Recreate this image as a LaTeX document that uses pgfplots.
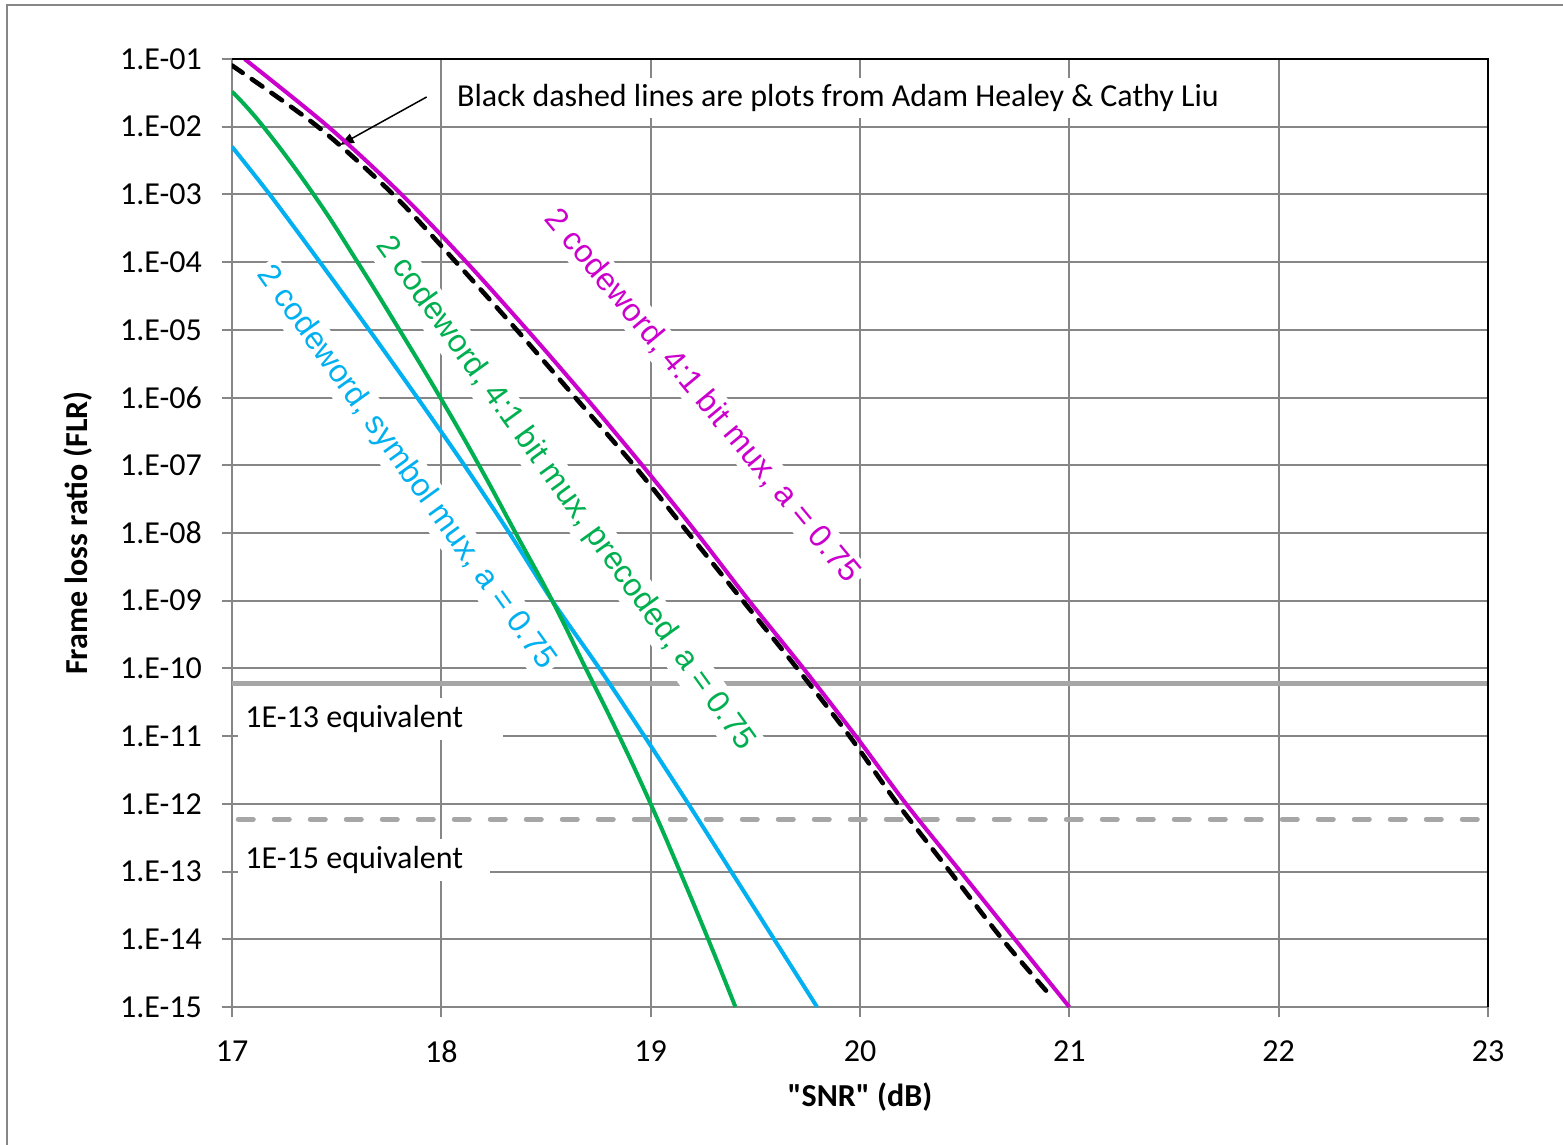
\documentclass[border=0pt]{standalone}
\usepackage{pgfplots}
\pgfplotsset{compat=1.18}
\usepackage{fontspec}
\setmainfont{Carlito}[Ligatures=TeXOff]
\newfontfamily\arialfont{Liberation Sans}
\usetikzlibrary{arrows.meta}
\definecolor{gridgray}{HTML}{868686}
\definecolor{refgray}{HTML}{A6A6A6}
\definecolor{cmag}{HTML}{CC00CC}
\definecolor{cgreen}{HTML}{00B050}
\definecolor{cblue}{HTML}{00B0F0}
\begin{document}
\begin{tikzpicture}[font=\fontsize{16}{19.2}\selectfont]
\useasboundingbox (-116pt,-69pt) rectangle (665.5pt,503.5pt);
\draw[gridgray, line width=1pt] (-112.5pt,-80pt) -- (-112.5pt,501pt) -- (680pt,501pt);
\begin{axis}[
  name=ax, at={(0,0)}, anchor=south west,
  scale only axis, width=628pt, height=474pt,
  xmin=17, xmax=23, ymin=1e-15, ymax=1e-1,
  ymode=log, log basis y=10,
  xtick={17,18,19,20,21,22,23},
  xticklabels={17,18,19,20,21,22,23},
  ytick={1e-15,1e-14,1e-13,1e-12,1e-11,1e-10,1e-9,1e-8,1e-7,1e-6,1e-5,1e-4,1e-3,1e-2,1e-1},
  yticklabels={1.E-15,1.E-14,1.E-13,1.E-12,1.E-11,1.E-10,1.E-09,1.E-08,1.E-07,1.E-06,1.E-05,1.E-04,1.E-03,1.E-02,1.E-01},
  yminorticks=false,
  /pgf/number format/assume math mode=true,
  grid=major,
  major grid style={gridgray, line width=1pt},
  axis line style={gridgray, line width=1pt},
  tick style={gridgray, line width=1pt},
  tick align=outside, major tick length=5pt,
  xtick pos=bottom, ytick pos=left,
  yticklabel style={font=\fontsize{16}{19.2}\selectfont, xshift=-6.5pt},
  xticklabel style={font=\fontsize{16}{19.2}\selectfont, yshift=-8.5pt},
  xlabel={\bfseries "SNR" (dB)},
  ylabel={\bfseries Frame loss ratio (FLR)},
  xlabel style={at={(axis description cs:0.5,-0.0949)}, anchor=center},
  ylabel style={at={(axis description cs:-0.1226,0.5)}, anchor=center},
]
% reference lines
\addplot[refgray, line width=2.5pt] coordinates {(17,6.07e-11) (23,6.07e-11)};
\addplot[refgray, line width=2.5pt, line cap=round, dash pattern=on 7.5pt off 10.5pt] coordinates {(17.03,5.94e-13) (23,5.94e-13)};
% labels
\node[fill=white, anchor=west, inner xsep=3.5pt, minimum height=21pt] at (axis cs:17.029,1.78e-11) {\makebox[125.5pt][l]{1E-13 equivalent}};
\node[fill=white, anchor=west, inner xsep=3.5pt, minimum height=21pt] at (axis cs:17.029,1.47e-13) {\makebox[119pt][l]{1E-15 equivalent}};
\node[fill=white, inner xsep=6pt, inner ysep=3pt] at (axis cs:19.895,0.02655) {Black dashed lines are plots from Adam Healey \& Cathy Liu};
\node[fill=white, inner sep=2pt, rotate=-54.3, text=cblue, font=\arialfont\fontsize{16}{19.2}\selectfont] at (axis cs:17.831,9.1e-8) {2 codeword, symbol mux, a = 0.75};
\node[fill=white, inner sep=2pt, rotate=-54.2, text=cgreen, font=\arialfont\fontsize{16}{19.2}\selectfont] at (axis cs:18.591,3.8e-8) {2 codeword, 4:1 bit mux, precoded, a = 0.75};
\node[fill=white, inner sep=2pt, rotate=-50.3, text=cmag, font=\arialfont\fontsize{16}{19.2}\selectfont] at (axis cs:19.248,1.05e-6) {2 codeword, 4:1 bit mux, a = 0.75};
\draw[black, line width=0.75pt, -{Triangle[length=7pt,width=5pt]}] (axis cs:17.93,0.0275) -- (axis cs:17.516,0.00537);
% curves
\addplot[cblue, line width=2pt, smooth] coordinates {(17.00,5.07e-3) (17.18,1e-3) (17.42,1e-4) (17.655,1e-5) (17.885,1e-6) (18.11,1e-7) (18.325,1e-8) (18.53,1e-9) (18.755,1e-10) (18.97,1e-11) (19.18,1e-12) (19.385,1e-13) (19.59,1e-14) (19.795,1e-15)};
\addplot[cgreen, line width=2pt, smooth, tension=0.75] coordinates {(17.00,3.3e-2) (17.15,1e-2) (17.39,1e-3) (17.60,1e-4) (17.80,1e-5) (17.995,1e-6) (18.18,1e-7) (18.355,1e-8) (18.53,1e-9) (18.69,1e-10) (18.85,1e-11) (19.00,1e-12) (19.14,1e-13) (19.275,1e-14) (19.405,1e-15)};
\addplot[cmag, line width=2pt, smooth] coordinates {(17.06,1e-1) (17.46,1e-2) (17.81,1e-3) (18.12,1e-4) (18.41,1e-5) (18.69,1e-6) (18.96,1e-7) (19.22,1e-8) (19.47,1e-9) (19.73,1e-10) (19.98,1e-11) (20.22,1e-12) (20.48,1e-13) (20.74,1e-14) (21.00,1e-15)};
\addplot[black, line width=2.3pt, smooth, line cap=round, dash pattern=on 6.5pt off 5.5pt] coordinates {(17.00,8.02e-2) (17.41,1e-2) (17.77,1e-3) (18.07,1e-4) (18.36,1e-5) (18.64,1e-6) (18.92,1e-7) (19.18,1e-8) (19.44,1e-9) (19.70,1e-10) (19.95,1e-11) (20.18,1e-12) (20.43,1e-13) (20.68,1e-14) (20.92,1.35e-15)};
\end{axis}
\draw[black, line width=1pt] (ax.north west) -- (ax.north east) -- (ax.south east);
\end{tikzpicture}
\end{document}
